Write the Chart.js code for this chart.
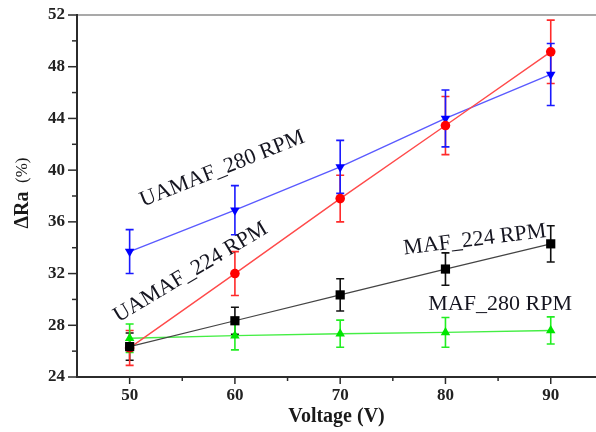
<!DOCTYPE html>
<html>
<head>
<meta charset="utf-8">
<script src="https://cdn.jsdelivr.net/npm/chart.js@4.4.1/dist/chart.umd.min.js"></script>
<style>
    html, body { margin: 0; padding: 0; background: #fff; }
</style>
</head>
<body>
<canvas id="roughChart" width="596" height="432"></canvas>
<script>
const voltage = [50, 60, 70, 80, 90];

const maf224 = [26.35, 28.35, 30.35, 32.35, 34.3];
const maf224Err = [1.05, 1.05, 1.25, 1.25, 1.4];

const uamaf224 = [26.25, 32.0, 37.8, 43.45, 49.15];
const uamaf224Err = [1.35, 1.7, 1.8, 2.25, 2.45];

const uamaf280 = [33.7, 36.9, 40.25, 44.0, 47.4];
const uamaf280Err = [1.7, 1.9, 2.05, 2.2, 2.4];

const maf280 = [27.0, 27.2, 27.35, 27.45, 27.6];
const maf280Err = [1.1, 1.1, 1.05, 1.15, 1.05];

const serif = '"Liberation Serif", "Times New Roman", serif';

// text labels written on the plot, placed in data units
const curveLabels = [
    { text: 'UAMAF_280 RPM', x: 58.8, y: 40.1, angle: -21.7 },
    { text: 'UAMAF_224 RPM', x: 55.8, y: 32.1, angle: -31 },
    { text: 'MAF_224 RPM', x: 82.8, y: 34.6, angle: -7 },
    { text: 'MAF_280 RPM', x: 85.2, y: 29.6, angle: 0 }
];

const toPoints = values => values.map((v, i) => ({ x: voltage[i], y: v }));

// frame, tick marks and the y title (mixed weights)
const axisDecor = {
    id: 'axisDecor',
    beforeDatasetsDraw(chart) {
        const { ctx, chartArea: a, scales: { x, y } } = chart;
        ctx.save();
        ctx.strokeStyle = '#8c8c8c';
        ctx.lineWidth = 1.5;
        ctx.beginPath();
        ctx.moveTo(a.left, a.top);
        ctx.lineTo(chart.width, a.top);
        ctx.stroke();

        ctx.strokeStyle = '#2b2b2b';
        ctx.lineWidth = 2;
        ctx.beginPath();
        ctx.moveTo(a.left, a.top - 1);
        ctx.lineTo(a.left, a.bottom);
        ctx.lineTo(chart.width, a.bottom);
        ctx.stroke();

        ctx.lineWidth = 1.5;
        y.ticks.forEach(t => {
            const py = y.getPixelForValue(t.value);
            const len = t.value % 4 === 0 ? 9 : 5;
            ctx.beginPath();
            ctx.moveTo(a.left - len, py);
            ctx.lineTo(a.left, py);
            ctx.stroke();
        });
        x.ticks.forEach(t => {
            if (t.value % 5 !== 0 || t.value < 50) return;
            const px = x.getPixelForValue(t.value);
            const len = t.value % 10 === 0 ? 7 : 4;
            ctx.beginPath();
            ctx.moveTo(px, a.bottom);
            ctx.lineTo(px, a.bottom + len);
            ctx.stroke();
        });
        ctx.restore();
    },
    afterDraw(chart) {
        const { ctx, chartArea: a } = chart;
        ctx.save();
        ctx.translate(23, (a.top + a.bottom) / 2 - 3);
        ctx.rotate(-Math.PI / 2);
        ctx.fillStyle = '#1a1a1a';
        ctx.textBaseline = 'middle';
        ctx.font = 'bold 20px ' + serif;
        const w1 = ctx.measureText('\u0394Ra').width;
        ctx.font = '17px ' + serif;
        const w2 = ctx.measureText('  (%)').width;
        let start = -(w1 + w2) / 2;
        ctx.font = 'bold 20px ' + serif;
        ctx.textAlign = 'left';
        ctx.fillText('\u0394Ra', start, 0);
        ctx.font = '17px ' + serif;
        ctx.fillText('  (%)', start + w1, 0);
        ctx.restore();
    }
};

const errorBars = {
    id: 'errorBars',
    beforeDatasetsDraw(chart) {
        const { ctx, scales: { x, y } } = chart;
        ctx.save();
        ctx.lineWidth = 1.6;
        chart.data.datasets.forEach(ds => {
            ctx.strokeStyle = ds.errColor;
            ds.data.forEach((p, j) => {
                const px = x.getPixelForValue(p.x);
                const top = y.getPixelForValue(p.y + ds.err[j]);
                const bot = y.getPixelForValue(p.y - ds.err[j]);
                ctx.beginPath();
                ctx.moveTo(px, top);
                ctx.lineTo(px, bot);
                ctx.moveTo(px - 4, top);
                ctx.lineTo(px + 4, top);
                ctx.moveTo(px - 4, bot);
                ctx.lineTo(px + 4, bot);
                ctx.stroke();
            });
        });
        ctx.restore();
    }
};

const curveText = {
    id: 'curveText',
    afterDatasetsDraw(chart) {
        const { ctx, scales: { x, y } } = chart;
        ctx.save();
        ctx.fillStyle = '#151520';
        ctx.font = '22px ' + serif;
        ctx.textAlign = 'center';
        ctx.textBaseline = 'middle';
        curveLabels.forEach(l => {
            ctx.save();
            ctx.translate(x.getPixelForValue(l.x), y.getPixelForValue(l.y));
            ctx.rotate(l.angle * Math.PI / 180);
            ctx.fillText(l.text, 0, 0);
            ctx.restore();
        });
        ctx.restore();
    }
};

const ctx = document.getElementById('roughChart').getContext('2d');

new Chart(ctx, {
    type: 'line',
    data: {
        datasets: [
            {
                label: 'MAF_224 RPM',
                data: toPoints(maf224),
                err: maf224Err,
                errColor: '#111',
                borderColor: '#444',
                borderWidth: 1.2,
                backgroundColor: '#000',
                pointStyle: 'rect',
                pointRadius: 6.5,
                pointBorderWidth: 0
            },
            {
                label: 'UAMAF_224 RPM',
                data: toPoints(uamaf224),
                err: uamaf224Err,
                errColor: '#ff2a2a',
                borderColor: '#ff4a4a',
                borderWidth: 1.4,
                backgroundColor: '#ff0000',
                pointStyle: 'circle',
                pointRadius: 4.8,
                pointBorderWidth: 0
            },
            {
                label: 'UAMAF_280 RPM',
                data: toPoints(uamaf280),
                err: uamaf280Err,
                errColor: '#1a1aff',
                borderColor: '#5a5aff',
                borderWidth: 1.4,
                backgroundColor: '#0000ff',
                pointStyle: 'triangle',
                rotation: 180,
                pointRadius: 5.5,
                pointBorderWidth: 0
            },
            {
                label: 'MAF_280 RPM',
                data: toPoints(maf280),
                err: maf280Err,
                errColor: '#22ee22',
                borderColor: '#44ee44',
                borderWidth: 1.4,
                backgroundColor: '#00e600',
                pointStyle: 'triangle',
                pointRadius: 5.5,
                pointBorderWidth: 0
            }
        ]
    },
    options: {
        responsive: false,
        animation: false,
        events: [],
        layout: {
            autoPadding: false,
            padding: { left: 0, right: 0, top: 15, bottom: 0 }
        },
        scales: {
            x: {
                type: 'linear',
                min: 45,
                max: 94.3,
                afterFit: scale => {
                    scale.height = 55;
                    scale.paddingLeft = 0;
                    scale.paddingRight = 0;
                },
                border: { display: false },
                grid: { display: false, drawTicks: false },
                ticks: {
                    stepSize: 5,
                    includeBounds: false,
                    padding: 8,
                    color: '#222',
                    font: { family: serif, size: 17, weight: 'bold' },
                    callback: v => (v % 10 === 0 ? v : '')
                },
                title: {
                    display: true,
                    text: 'Voltage (V)',
                    color: '#1a1a1a',
                    font: { family: serif, size: 20, weight: 'bold' },
                    padding: { top: 0, bottom: 3 }
                }
            },
            y: {
                min: 24,
                max: 52,
                afterFit: scale => {
                    scale.width = 77;
                    scale.paddingTop = 0;
                    scale.paddingBottom = 0;
                },
                border: { display: false },
                grid: { display: false, drawTicks: false },
                ticks: {
                    stepSize: 2,
                    padding: 12,
                    color: '#222',
                    font: { family: serif, size: 17, weight: 'bold' },
                    callback: v => (v % 4 === 0 ? v : '')
                }
            }
        },
        plugins: {
            legend: { display: false },
            tooltip: { enabled: false }
        }
    },
    plugins: [axisDecor, errorBars, curveText]
});
</script>
</body>
</html>
